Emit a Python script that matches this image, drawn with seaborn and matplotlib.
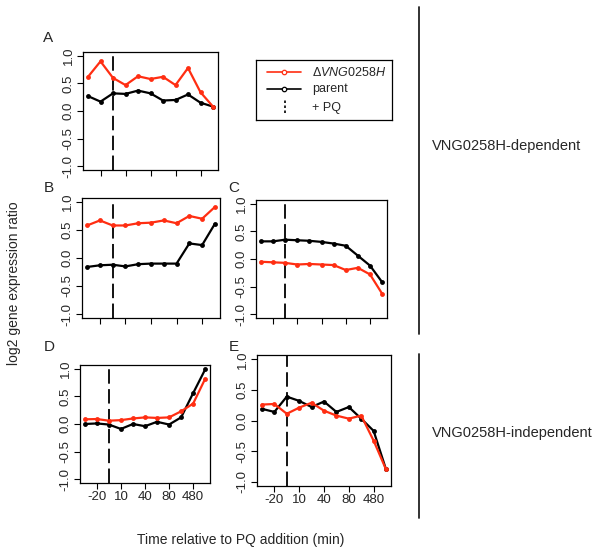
import numpy as np
import pandas as pd
import matplotlib
matplotlib.use("Agg")
import matplotlib.pyplot as plt
import seaborn as sns

# ---------------- data ----------------
n_points = 11
pq_index = 2
tick_positions = [1, 3, 5, 7, 9]
tick_labels = ["-20", "10", "40", "80", "480"]
yticks = [-1.0, -0.5, 0.0, 0.5, 1.0]

mutant_A = [0.62, 0.90, 0.60, 0.47, 0.63, 0.58, 0.62, 0.47, 0.78, 0.34, 0.08]
parent_A = [0.27, 0.17, 0.32, 0.31, 0.37, 0.32, 0.19, 0.20, 0.30, 0.15, 0.08]
mutant_B = [0.58, 0.67, 0.58, 0.58, 0.62, 0.63, 0.67, 0.62, 0.75, 0.70, 0.91]
parent_B = [-0.16, -0.13, -0.12, -0.15, -0.11, -0.10, -0.10, -0.10, 0.26, 0.23, 0.61]
mutant_C = [-0.05, -0.06, -0.07, -0.10, -0.09, -0.10, -0.11, -0.20, -0.16, -0.28, -0.63]
parent_C = [0.32, 0.32, 0.35, 0.34, 0.33, 0.31, 0.28, 0.24, 0.06, -0.12, -0.42]
mutant_D = [0.085, 0.09, 0.06, 0.07, 0.10, 0.12, 0.11, 0.12, 0.23, 0.37, 0.82]
parent_D = [0.00, 0.01, -0.01, -0.09, 0.00, -0.04, 0.04, -0.01, 0.12, 0.56, 0.99]
mutant_E = [0.26, 0.27, 0.11, 0.21, 0.29, 0.16, 0.08, 0.03, 0.08, -0.33, -0.80]
parent_E = [0.19, 0.14, 0.39, 0.32, 0.22, 0.31, 0.14, 0.22, 0.03, -0.17, -0.80]

panel_letters = ["A", "B", "C", "D", "E"]
series_names = ["parent", "mutant"]
group_labels = ["VNG0258H-dependent", "VNG0258H-independent"]

RED = "#FF2E12"
BLACK = "#000000"

# ---------------- style ----------------
sns.set_style("ticks")
plt.rcParams["font.family"] = ["Liberation Sans", "DejaVu Sans"]
plt.rcParams["mathtext.fontset"] = "custom"
plt.rcParams["mathtext.rm"] = "Liberation Sans"
plt.rcParams["mathtext.it"] = "Liberation Sans:italic"

W, H = 600, 554
fig = plt.figure(figsize=(6.0, 5.54), dpi=100)


def rect(x0, x1, y0, y1):
    return [x0 / W, 1 - y1 / H, (x1 - x0) / W, (y1 - y0) / H]


panels = {
    "A": dict(box=rect(83, 218, 52, 170), mut=mutant_A, par=parent_A, xl=False, lab=(48, 38)),
    "B": dict(box=rect(82, 220, 198, 318), mut=mutant_B, par=parent_B, xl=False, lab=(49, 188)),
    "C": dict(box=rect(256, 387, 200, 318), mut=mutant_C, par=parent_C, xl=False, lab=(234, 188)),
    "D": dict(box=rect(80, 210, 365, 483), mut=mutant_D, par=parent_D, xl=True, lab=(49, 347)),
    "E": dict(box=rect(257, 391, 355, 486), mut=mutant_E, par=parent_E, xl=True, lab=(234, 347)),
}

x_idx = np.arange(n_points)

for key in panel_letters:
    p = panels[key]
    ax = fig.add_axes(p["box"])
    df = pd.DataFrame({
        "pos": np.concatenate([x_idx, x_idx]),
        "val": np.concatenate([p["par"], p["mut"]]),
        "series": ["parent"] * n_points + ["mutant"] * n_points,
    })
    ax.axvline(pq_index, color="black", lw=1.3, dashes=(8, 3), zorder=1)
    sns.lineplot(data=df, x="pos", y="val", hue="series", hue_order=series_names,
                 palette={"parent": BLACK, "mutant": RED}, marker="o", markersize=3.5,
                 markeredgewidth=0, linewidth=1.6, legend=False, ax=ax, zorder=3)
    ax.set_xlim(-0.4, 10.4)
    ax.set_ylim(-1.07, 1.07)
    ax.set_xlabel("")
    ax.set_ylabel("")
    ax.set_xticks(tick_positions)
    if p["xl"]:
        ax.set_xticklabels(tick_labels)
    else:
        ax.set_xticklabels([])
    ax.set_yticks(yticks)
    ax.set_yticklabels([f"{v:.1f}" for v in yticks])
    ax.tick_params(axis="both", direction="out", length=4, width=0.8,
                   labelsize=9.5, pad=2, color="black")
    ax.tick_params(axis="y", labelrotation=90)
    for lab in ax.get_yticklabels():
        lab.set_va("center")
    for s in ax.spines.values():
        s.set_visible(True)
        s.set_linewidth(0.9)
        s.set_color("black")
    fig.text(p["lab"][0] / W, 1 - p["lab"][1] / H, key, fontsize=11,
             ha="center", va="center")

# legend box
lax = fig.add_axes(rect(256, 392, 60, 120))
lax.set_xlim(0, 1)
lax.set_ylim(0, 1)
lax.set_xticks([])
lax.set_yticks([])
for s in lax.spines.values():
    s.set_visible(True)
    s.set_linewidth(0.9)
    s.set_color("black")
lax.plot([0.08, 0.33], [0.80, 0.80], color=RED, lw=1.2)
lax.plot([0.205], [0.80], marker="o", ms=3.2, mfc="white", mec=RED, mew=0.9, ls="none")
lax.plot([0.08, 0.33], [0.52, 0.52], color=BLACK, lw=1.2)
lax.plot([0.205], [0.52], marker="o", ms=3.2, mfc="white", mec=BLACK, mew=0.9, ls="none")
lax.plot([0.21, 0.21], [0.12, 0.37], color=BLACK, lw=1.2, ls=(0, (1.5, 1.5)))
lax.text(0.41, 0.80, r"$\Delta\mathit{VNG0258H}$", fontsize=9, va="center", ha="left")
lax.text(0.41, 0.52, "parent", fontsize=9, va="center", ha="left")
lax.text(0.41, 0.20, "+ PQ", fontsize=9, va="center", ha="left")

# separators and group labels
fig.add_artist(plt.Line2D([419 / W, 419 / W], [1 - 7 / H, 1 - 334 / H], color="#222222", lw=1.3))
fig.add_artist(plt.Line2D([419 / W, 419 / W], [1 - 354 / H, 1 - 518 / H], color="#222222", lw=1.3))
fig.text(432 / W, 1 - 146 / H, group_labels[0], fontsize=10.5, ha="left", va="center")
fig.text(432 / W, 1 - 433 / H, group_labels[1], fontsize=10.5, ha="left", va="center")

fig.text(241 / W, 1 - 540 / H, "Time relative to PQ addition (min)", fontsize=10,
         ha="center", va="center")
fig.text(14 / W, 1 - 283 / H, "log2 gene expression ratio", fontsize=10,
         ha="center", va="center", rotation=90)

fig.savefig("out.png", dpi=100)
